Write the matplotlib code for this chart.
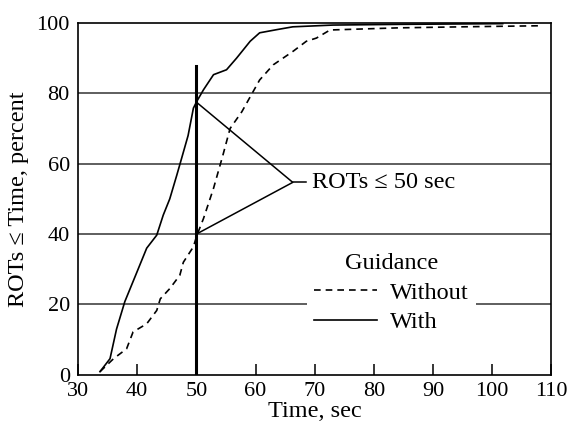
import numpy as np
import matplotlib.pyplot as plt
from matplotlib.ticker import MultipleLocator

plt.rcParams['font.family'] = ['Liberation Serif', 'DejaVu Serif']

# "With" guidance (solid)
with_t = [33.7, 35.4, 36.5, 37.9, 39.9, 41.6, 43.3, 44.4, 45.5, 46.7, 47.5,
          48.6, 49.5, 50.1, 51.2, 52.9, 55.1, 56.8, 59.1, 60.7, 63.6, 66.3,
          73.1, 84.4, 101.8]
with_p = [0.9, 4.6, 13.0, 20.8, 29.0, 36.0, 39.7, 45.4, 50.0, 56.8, 61.5,
          68.0, 75.8, 77.8, 81.0, 85.3, 86.7, 90.0, 94.8, 97.2, 98.1, 98.9,
          99.4, 99.6, 99.8]

# "Without" guidance (dashed)
without_t = [33.7, 36.0, 38.2, 39.3, 41.6, 43.3, 43.9, 45.5, 47.2, 47.8, 49.5,
             50.1, 51.2, 52.9, 54.5, 55.7, 57.7, 59.3, 60.7, 63.0, 66.4, 68.6,
             70.3, 72.6, 84.0, 95.0, 108.0]
without_p = [0.9, 4.6, 7.4, 12.2, 14.5, 18.3, 21.6, 24.5, 28.3, 32.0, 36.4,
             39.7, 44.4, 53.0, 62.5, 70.0, 74.8, 79.6, 83.8, 88.1, 92.0, 94.8,
             95.7, 98.0, 98.6, 98.9, 99.2]

limit_t = 50
with_at_limit = 77.5
without_at_limit = 40.0
label_xy = (66.3, 54.7)

fs = 17.5

fig = plt.figure(figsize=(5.7, 4.25), dpi=100)
ax = fig.add_axes([0.137, 0.118, 0.83, 0.828])

for y in [20, 40, 60, 80]:
    ax.axhline(y, color='#333333', lw=1.1, zorder=1)

ax.plot(without_t, without_p, color='black', lw=1.2, dashes=(4, 3),
        label='Without', zorder=3)
ax.plot(with_t, with_p, color='black', lw=1.2, label='With', zorder=3)

ax.plot([limit_t, limit_t], [0, 87.7], color='black', lw=2.2, zorder=4)

# annotation triangle
ax.plot([limit_t, label_xy[0], limit_t], [with_at_limit, label_xy[1], without_at_limit],
        color='black', lw=1.1, zorder=4)
ax.plot([label_xy[0], label_xy[0] + 2.3], [label_xy[1], label_xy[1]],
        color='black', lw=1.1, zorder=4)
ax.text(label_xy[0] + 3.2, label_xy[1], 'ROTs ≤ 50 sec', fontsize=fs,
        va='center', ha='left')

ax.set_xlim(30, 110)
ax.set_ylim(0, 100)
ax.xaxis.set_major_locator(MultipleLocator(10))
ax.yaxis.set_major_locator(MultipleLocator(20))
ax.tick_params(axis='x', direction='in', length=8, width=1.1, labelsize=16, pad=5)
ax.tick_params(axis='y', length=0, labelsize=16, pad=6)
for s in ax.spines.values():
    s.set_linewidth(1.2)

ax.set_xlabel('Time, sec', fontsize=fs, labelpad=0)
ax.set_ylabel('ROTs ≤ Time, percent', fontsize=fs, labelpad=5)

leg = ax.legend(title='Guidance', loc='center', bbox_to_anchor=(0.662, 0.232),
                fontsize=fs, title_fontsize=fs, handlelength=2.6,
                handletextpad=0.5, labelspacing=0.3, borderpad=0.3,
                facecolor='white', edgecolor='none', framealpha=1,
                fancybox=False)
leg._legend_box.align = 'center'
leg.set_zorder(5)

fig.savefig('out.png', dpi=100)
